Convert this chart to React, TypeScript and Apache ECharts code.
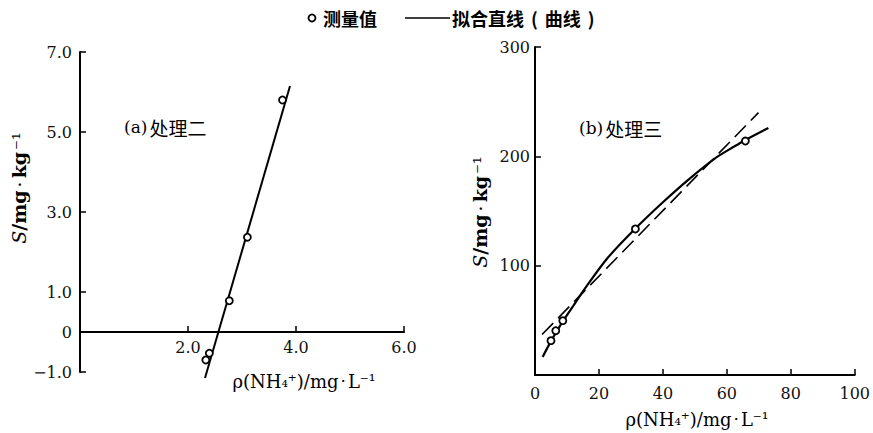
import React, { useEffect, useRef } from "react";
import * as echarts from "echarts";

// Panel (a) 处理二
const aMeasured: number[][] = [
  [3.75, 5.8],
  [3.1, 2.37],
  [2.765, 0.78],
  [2.395, -0.53],
  [2.33, -0.7],
];
const aFit: number[][] = [
  [2.315, -1.15],
  [3.889, 6.15],
];
// Panel (b) 处理三
const bMeasured: number[][] = [
  [5, 31.4],
  [6.5, 40.5],
  [8.7, 49.7],
  [31.4, 133.6],
  [65.8, 214],
];
const bCurve: number[][] = [
  [2.4, 16.5],
  [5, 31],
  [8.7, 49],
  [12.6, 66],
  [15.6, 79],
  [22.7, 107],
  [31.4, 134],
  [40, 158],
  [48.1, 179],
  [56.2, 198],
  [62.3, 209],
  [65.8, 215],
  [73, 226],
];
const bLinear: number[][] = [
  [2.2, 37],
  [69.9, 240],
];

const legendMeasured = "测量值";
const legendFit = "拟合直线(曲线)";

const numFont = "DejaVu Serif";
const cjkFont = "Noto Sans CJK SC";

const xTitleRich = {
  text: "ρ(NH{s|₄}{p|⁺})/mg{d|·}L{p|⁻¹}",
  rich: {
    s: { fontFamily: numFont, fontSize: 16 },
    p: { fontFamily: numFont, fontSize: 17 },
    d: { fontFamily: numFont, fontSize: 17, padding: [0, 2, 0, 2] },
  },
};
const yTitleRich = {
  text: "{i|S}/mg{d|·}kg{p|⁻¹}",
  rich: {
    i: { fontStyle: "italic", fontFamily: numFont, fontSize: 19 },
    d: { fontFamily: numFont, fontSize: 19, padding: [0, 3, 0, 3] },
    p: { fontFamily: numFont, fontSize: 19, padding: [0, 0, 0, 2] },
  },
};

export default function App() {
  const ref = useRef<HTMLDivElement>(null);
  useEffect(() => {
    if (!ref.current) return;
    const chart = echarts.init(ref.current, null, { renderer: "svg" });
    const axisLine = { show: true, onZero: false, lineStyle: { color: "#000", width: 2 } };
    const tick = { show: true, inside: true, length: 6, lineStyle: { color: "#000", width: 1.5 } };
    const lbl = { color: "#111", fontFamily: numFont, fontSize: 16 };
    const circle = {
      type: "scatter",
      symbol: "circle",
      symbolSize: 7,
      itemStyle: { color: "#fff", borderColor: "#000", borderWidth: 1.8, opacity: 1 },
      z: 5,
    };
    const textBase = { fill: "#000", verticalAlign: "middle" };
    chart.setOption({
      animation: false,
      backgroundColor: "#fff",
      grid: [
        { left: 80, top: 52, width: 324, height: 320 },
        { left: 535, top: 47, width: 325, height: 328 },
      ],
      xAxis: [
        {
          type: "value", gridIndex: 0, min: 0, max: 6, interval: 2,
          position: "bottom", offset: -40,
          axisLine, axisTick: tick, splitLine: { show: false },
          axisLabel: { ...lbl, margin: 7, formatter: (v: number) => (v === 0 ? "" : v.toFixed(1)) },
        },
        {
          type: "value", gridIndex: 1, min: 0, max: 100, interval: 20,
          axisLine, axisTick: tick, splitLine: { show: false },
          axisLabel: { ...lbl, margin: 10, formatter: (v: number) => String(v) },
        },
      ],
      yAxis: [
        {
          type: "value", gridIndex: 0, min: -1, max: 7, interval: 2,
          axisLine, axisTick: tick, splitLine: { show: false },
          axisLabel: { ...lbl, margin: 8, formatter: (v: number) => (v < 0 ? "−" + Math.abs(v).toFixed(1) : v.toFixed(1)) },
        },
        {
          type: "value", gridIndex: 0, min: -1, max: 7, interval: 1, position: "left",
          axisLine: { show: false }, axisTick: { show: false }, splitLine: { show: false },
          axisLabel: { ...lbl, margin: 8, formatter: (v: number) => (v === 0 ? "0" : "") },
        },
        {
          type: "value", gridIndex: 1, min: 0, max: 300, interval: 100,
          axisLine, axisTick: tick, splitLine: { show: false },
          axisLabel: { ...lbl, margin: 5, formatter: (v: number) => (v === 0 ? "" : String(v)) },
        },
      ],
      series: [
        { ...circle, name: legendMeasured, xAxisIndex: 0, yAxisIndex: 0, data: aMeasured },
        {
          type: "line", name: legendFit, xAxisIndex: 0, yAxisIndex: 0, data: aFit,
          symbol: "none", clip: false, lineStyle: { color: "#000", width: 2 },
        },
        { ...circle, name: legendMeasured, xAxisIndex: 1, yAxisIndex: 2, data: bMeasured },
        {
          type: "line", name: legendFit, xAxisIndex: 1, yAxisIndex: 2, data: bCurve,
          symbol: "none", smooth: 0.3, lineStyle: { color: "#000", width: 2.2 },
        },
        {
          type: "line", name: legendFit + "-linear", xAxisIndex: 1, yAxisIndex: 2, data: bLinear,
          symbol: "none", lineStyle: { color: "#000", width: 1.6, type: [16, 7] },
        },
      ],
      graphic: [
        { type: "circle", shape: { cx: 312, cy: 18, r: 3.5 }, style: { fill: "#fff", stroke: "#000", lineWidth: 1.8 } },
        { type: "text", x: 323, y: 18, style: { ...textBase, text: legendMeasured, fontFamily: cjkFont, fontWeight: "bold", fontSize: 18 } },
        { type: "line", shape: { x1: 405, y1: 18, x2: 450, y2: 18 }, style: { stroke: "#000", lineWidth: 1.5 } },
        {
          type: "text", x: 452, y: 18,
          style: {
            ...textBase, text: "拟合直线{p|(}曲线{p|)}", fontFamily: cjkFont, fontWeight: "bold", fontSize: 18,
            rich: { p: { fontFamily: cjkFont, fontWeight: "bold", fontSize: 18, padding: [0, 7, 0, 7] } },
          },
        },
        {
          type: "text", x: 124, y: 127,
          style: {
            ...textBase, text: "{a|(a)}处理二", fontFamily: cjkFont, fontSize: 19,
            rich: { a: { fontFamily: numFont, fontSize: 17, padding: [0, 2, 0, 0] } },
          },
        },
        {
          type: "text", x: 579, y: 128,
          style: {
            ...textBase, text: "{a|(b)}处理三", fontFamily: cjkFont, fontSize: 19,
            rich: { a: { fontFamily: numFont, fontSize: 17, padding: [0, 2, 0, 0] } },
          },
        },
        { type: "text", x: 304, y: 381, style: { ...textBase, ...xTitleRich, fontFamily: numFont, fontSize: 18, align: "center" } },
        { type: "text", x: 697, y: 419, style: { ...textBase, ...xTitleRich, fontFamily: numFont, fontSize: 18, align: "center" } },
        {
          type: "text", x: 19, y: 188, rotation: Math.PI / 2,
          style: { ...textBase, ...yTitleRich, align: "center", fontFamily: numFont, fontSize: 19, fontWeight: "bold" },
        },
        {
          type: "text", x: 480, y: 212, rotation: Math.PI / 2,
          style: { ...textBase, ...yTitleRich, align: "center", fontFamily: numFont, fontSize: 19, fontWeight: "bold" },
        },
      ],
    });
    return () => chart.dispose();
  }, []);
  return (
    <div
      ref={ref}
      style={{ position: "fixed", left: 0, top: 0, width: 873, height: 433 }}
    />
  );
}
